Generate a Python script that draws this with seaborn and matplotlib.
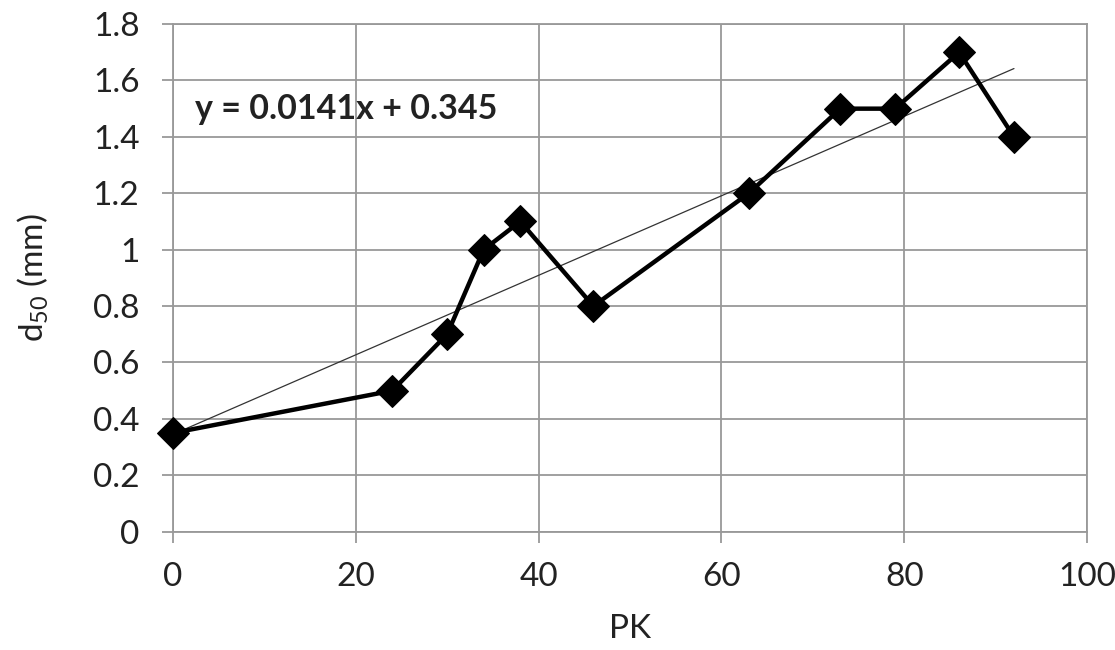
import numpy as np
import pandas as pd
import matplotlib
matplotlib.use("Agg")
import matplotlib.pyplot as plt
import seaborn as sns

# ------------------------
# Data
# ------------------------
pk = [0, 24, 30, 34, 38, 46, 63, 73, 79, 86, 92]
d50 = [0.35, 0.5, 0.7, 1.0, 1.1, 0.8, 1.2, 1.5, 1.5, 1.7, 1.4]
slope = 0.0141
intercept = 0.345
x_ticks = [0, 20, 40, 60, 80, 100]
y_ticks = [0, 0.2, 0.4, 0.6, 0.8, 1, 1.2, 1.4, 1.6, 1.8]
y_tick_labels = ["0", "0.2", "0.4", "0.6", "0.8", "1", "1.2", "1.4", "1.6", "1.8"]

df = pd.DataFrame({"PK": pk, "d50": d50})
trend = pd.DataFrame({"PK": [min(pk), max(pk)]})
trend["d50"] = slope * trend["PK"] + intercept

# ------------------------
# Style
# ------------------------
sns.set_style("white")
plt.rcParams["font.family"] = ["Lato", "DejaVu Sans"]
plt.rcParams["mathtext.fontset"] = "custom"
plt.rcParams["mathtext.rm"] = "Lato"
plt.rcParams["mathtext.it"] = "Lato"

fig = plt.figure(figsize=(11.15, 6.5), dpi=100)
ax = fig.add_axes([0.155, 0.182, 0.82, 0.781])

# thin trend line
sns.lineplot(data=trend, x="PK", y="d50", ax=ax, color="#333333", linewidth=0.9, zorder=3)
# measured values
sns.lineplot(data=df, x="PK", y="d50", ax=ax, color="black", linewidth=3.2,
             marker="D", markersize=16, markeredgecolor="black", zorder=4)
for ln in ax.lines:
    ln.set_clip_on(False)

ax.set_xlim(0, 100)
ax.set_ylim(0, 1.8)
ax.set_xticks(x_ticks)
ax.set_yticks(y_ticks)
ax.set_yticklabels(y_tick_labels)
ax.grid(True, color="#999999", linewidth=1.3)
ax.set_axisbelow(True)
for s in ax.spines.values():
    s.set_color("#999999")
    s.set_linewidth(1.3)
ax.tick_params(axis="both", bottom=True, left=True, direction="out", length=8, width=1.3,
               color="#999999", labelsize=24, labelcolor="#222222")
ax.tick_params(axis="y", pad=16)
ax.tick_params(axis="x", pad=14)

ax.set_xlabel("PK", fontsize=24, color="#222222", labelpad=16)
ax.set_ylabel(r"d$_{\mathregular{50}}$ (mm)", fontsize=24, color="#222222", labelpad=30)

ax.text(2.4, 1.5, "y = 0.0141x + 0.345", fontsize=24.5, fontweight="bold",
        color="#222222", va="center", ha="left")

fig.savefig("out.png", dpi=100)
